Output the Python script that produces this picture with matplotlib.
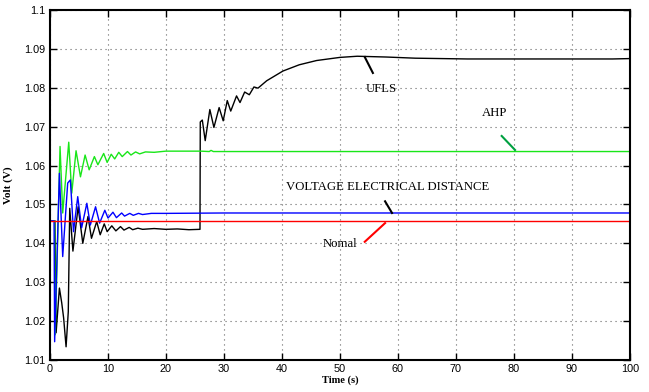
import matplotlib
matplotlib.use('Agg')
import matplotlib.pyplot as plt

# Normal case (red) - flat
normal_t = [0, 100]
normal_v = [1.0458, 1.0458]

# Voltage electrical distance (blue)
ved_t = [0, 0.75, 0.85, 1.67, 2.24, 3.1, 3.56, 4.1, 4.83, 5.5, 6.4, 7.0, 7.9, 8.6, 9.5,
         10.05, 10.9, 11.5, 12.4, 12.9, 13.8, 14.4, 15.3, 16.0, 17.5, 20, 30, 50, 100]
ved_v = [1.0458, 1.0458, 1.0147, 1.0580, 1.0366, 1.0555, 1.0563, 1.0430, 1.0520, 1.0440, 1.0503,
         1.0447, 1.0494, 1.0452, 1.0485, 1.0465, 1.0480, 1.0466, 1.0478, 1.0470, 1.0477,
         1.0472, 1.0477, 1.0474, 1.0477, 1.0477, 1.0478, 1.0478, 1.0478]

# AHP (green)
ahp_t = [0, 0.85, 0.95, 1.78, 2.24, 3.28, 3.8, 4.54, 5.3, 6.1, 6.8, 7.7, 8.3, 9.3, 9.9,
         10.6, 11.2, 11.9, 12.5, 13.4, 14.0, 14.8, 15.5, 16.5, 18, 20, 26, 27.5, 27.8, 28.2, 40, 100]
ahp_v = [1.0458, 1.0458, 1.0165, 1.0649, 1.0478, 1.0660, 1.0529, 1.0638, 1.0571, 1.0627, 1.0589,
         1.0623, 1.0602, 1.0631, 1.0608, 1.0629, 1.0617, 1.0634, 1.0623, 1.0636, 1.0627,
         1.0635, 1.0630, 1.0635, 1.0634, 1.0637, 1.0637, 1.0636, 1.0639, 1.0636, 1.0636, 1.0636]

# UFLS (black)
ufls_t = [0, 0.9, 1.1, 1.67, 2.07, 2.4, 2.82, 3.2, 3.45, 4.0, 4.9, 5.7, 6.6, 7.2, 8.1, 8.7, 9.4,
          9.9, 10.7, 11.4, 12.2, 12.8, 13.7, 14.3, 15.2, 16, 18, 20, 22, 24, 25.9,
          25.95, 26.3, 26.8, 27.6, 28.3, 29.2, 29.9, 30.6, 31.2, 32.2, 32.8, 33.6, 34.4,
          35.2, 35.9, 37.4, 40.2, 43, 46, 50, 53, 58, 63, 72, 97, 100]
ufls_v = [1.0458, 1.0458, 1.0170, 1.0285, 1.0247, 1.0208, 1.0134, 1.0224, 1.0490, 1.0380, 1.0494,
          1.0400, 1.0469, 1.0413, 1.0456, 1.0422, 1.0450, 1.0430, 1.0445, 1.0432, 1.0443,
          1.0434, 1.0441, 1.0435, 1.0439, 1.0436, 1.0438, 1.0436, 1.0437, 1.0435, 1.0436,
          1.0712, 1.0717, 1.0664, 1.0744, 1.0698, 1.0749, 1.0715, 1.0767, 1.0740, 1.0779,
          1.0762, 1.0789, 1.0782, 1.0802, 1.0799, 1.0818, 1.0843, 1.0859, 1.0870, 1.0878,
          1.0881, 1.0879, 1.0876, 1.0874, 1.0874, 1.0875]

x_ticks = list(range(0, 101, 10))
y_ticks = [1.01, 1.02, 1.03, 1.04, 1.05, 1.06, 1.07, 1.08, 1.09, 1.1]
y_labels = ['1.01', '1.02', '1.03', '1.04', '1.05', '1.06', '1.07', '1.08', '1.09', '1.1']

fig = plt.figure(figsize=(6.49, 3.92), dpi=100)
ax = fig.add_axes([0.0766, 0.0816, 0.894, 0.893])

ax.plot(ufls_t, ufls_v, color='black', lw=1.0, solid_joinstyle='round')
ax.plot(ahp_t, ahp_v, color='#19e619', lw=1.0, solid_joinstyle='round')
ax.plot(ved_t, ved_v, color='#0000ff', lw=1.0, solid_joinstyle='round')
ax.plot(normal_t, normal_v, color='#ff0000', lw=1.0)

ax.set_xlim(0, 100)
ax.set_ylim(1.01, 1.1)
ax.set_xticks(x_ticks)
ax.set_yticks(y_ticks)
ax.set_yticklabels(y_labels)
ax.tick_params(direction='in', top=True, right=True, length=5, width=1,
               labelsize=7.8, pad=3)
for lab in ax.get_xticklabels() + ax.get_yticklabels():
    lab.set_family('Liberation Sans')
for s in ax.spines.values():
    s.set_linewidth(1.5)
ax.grid(True, linestyle=(0, (1, 3.5)), color='0.4', lw=0.8)

ax.set_xlabel('Time (s)', fontsize=7.5, fontweight='bold', family='Liberation Serif', labelpad=1)
ax.set_ylabel('Volt (V)', fontsize=8, fontweight='bold', family='Liberation Serif', labelpad=8)

# labels with leader lines
ax.text(57.2, 1.0797, 'UFLS', fontsize=9.2, family='Liberation Serif', ha='center', va='center')
ax.plot([54.3, 55.7], [1.0879, 1.0838], color='black', lw=1.5)

ax.text(76.7, 1.0735, 'AHP', fontsize=9.2, family='Liberation Serif', ha='center', va='center')
ax.plot([77.9, 80.2], [1.0676, 1.0640], color='#00a040', lw=1.5)

ax.text(58.3, 1.0544, 'VOLTAGE ELECTRICAL DISTANCE', fontsize=9.2, family='Liberation Serif',
        ha='center', va='center')
ax.plot([57.8, 59.0], [1.0508, 1.0478], color='black', lw=1.5)

ax.text(50.0, 1.0398, 'Nomal', fontsize=9.2, family='Liberation Serif', ha='center', va='center')
ax.plot([54.3, 57.8], [1.0404, 1.0452], color='#ff0000', lw=1.5)

fig.savefig('out.png', dpi=100)
